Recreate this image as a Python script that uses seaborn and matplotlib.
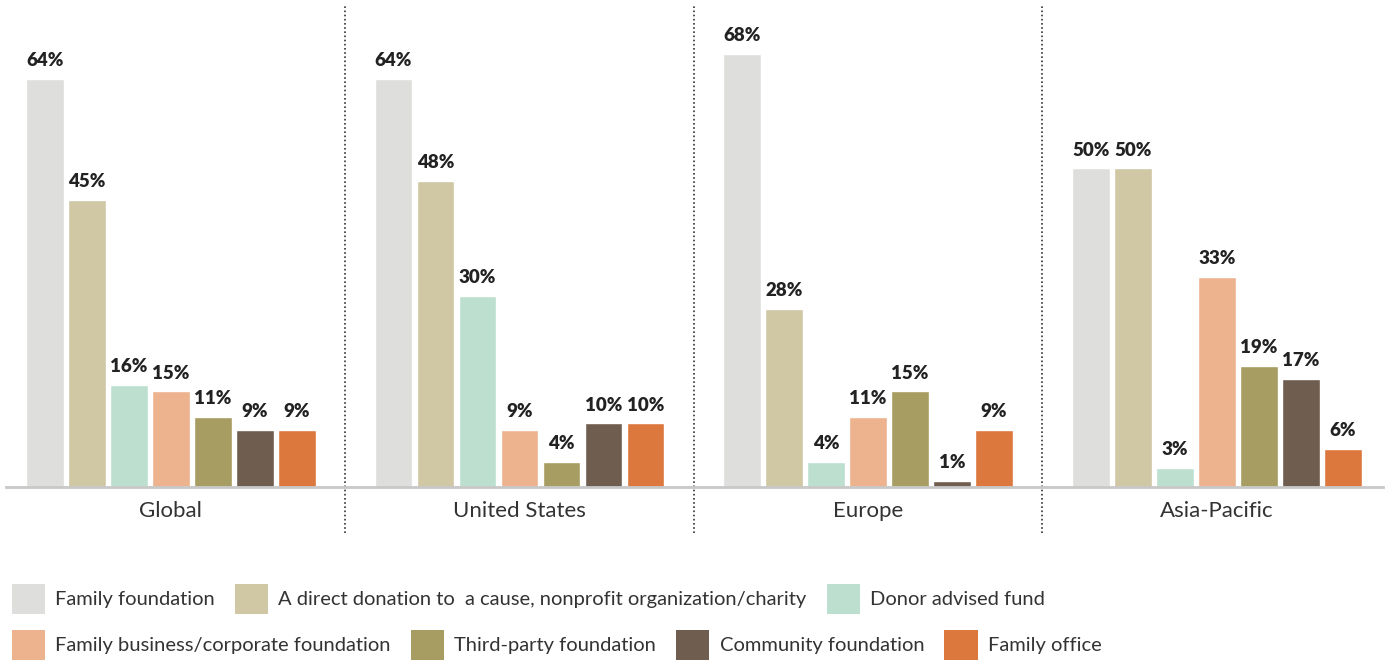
import matplotlib
matplotlib.use('Agg')
import matplotlib.pyplot as plt
import pandas as pd
import seaborn as sns
from matplotlib.patches import Patch

regions = ['Global', 'United States', 'Europe', 'Asia-Pacific']
categories = [
    'Family foundation',
    'A direct donation to  a cause, nonprofit organization/charity',
    'Donor advised fund',
    'Family business/corporate foundation',
    'Third-party foundation',
    'Community foundation',
    'Family office',
]
global_vals = [64, 45, 16, 15, 11, 9, 9]
us_vals = [64, 48, 30, 9, 4, 10, 10]
europe_vals = [68, 28, 4, 11, 15, 1, 9]
apac_vals = [50, 50, 3, 33, 19, 17, 6]
colors = ['#dededd', '#d0c7a4', '#bcdfcf', '#edb28e', '#a79c61', '#6f5d50', '#dc773d']

rows = []
for region, vals in zip(regions, [global_vals, us_vals, europe_vals, apac_vals]):
    for cat, v in zip(categories, vals):
        rows.append({'region': region, 'category': cat, 'value': v})
df = pd.DataFrame(rows)

sns.set_style('white')
plt.rcParams['font.family'] = ['Lato', 'DejaVu Sans']

fig = plt.figure(figsize=(13.88, 6.62), dpi=100)
ax = fig.add_axes([6 / 1388, 1 - 487 / 662, (1383 - 6) / 1388, 487 / 662])

sns.barplot(data=df, x='region', y='value', hue='category', order=regions,
            hue_order=categories, palette=colors, width=0.843, gap=0.1,
            saturation=1, legend=False, ax=ax)

for cont in ax.containers:
    ax.bar_label(cont, fmt='%d%%', padding=7, fontsize=13.5, fontweight='heavy',
                 color='#222222')

ax.set_xlim(-0.473, 3.477)
ax.set_ylim(0, 76.4)
ax.set_yticks([])
ax.set_xlabel('')
ax.set_ylabel('')
for s in ['left', 'right', 'top']:
    ax.spines[s].set_visible(False)
ax.spines['bottom'].set_color('#c8c8c8')
ax.spines['bottom'].set_linewidth(2)
ax.tick_params(axis='x', length=0, pad=10, labelsize=16, labelcolor='#333333')

for xs in [0.5, 1.5, 2.5]:
    ax.axvline(xs, ymin=-0.095, ymax=0.99, clip_on=False, color='#333333',
               lw=1.2, linestyle=(0, (1, 1.5)))

handles = [Patch(facecolor=c, edgecolor='none') for c in colors]
leg_kw = dict(frameon=False, handlelength=1.65, handleheight=1.9,
              handletextpad=0.5, columnspacing=1.0, borderpad=0, borderaxespad=0,
              prop={'size': 14.5})
leg1 = fig.legend(handles[:3], categories[:3], loc='upper left',
                  bbox_to_anchor=(12 / 1388, 1 - 584 / 662), ncol=3, **leg_kw)
leg2 = fig.legend(handles[3:], categories[3:], loc='upper left',
                  bbox_to_anchor=(12 / 1388, 1 - 630 / 662), ncol=4, **leg_kw)
for leg in [leg1, leg2]:
    for t in leg.get_texts():
        t.set_color('#333333')

fig.savefig('out.png', dpi=100)
